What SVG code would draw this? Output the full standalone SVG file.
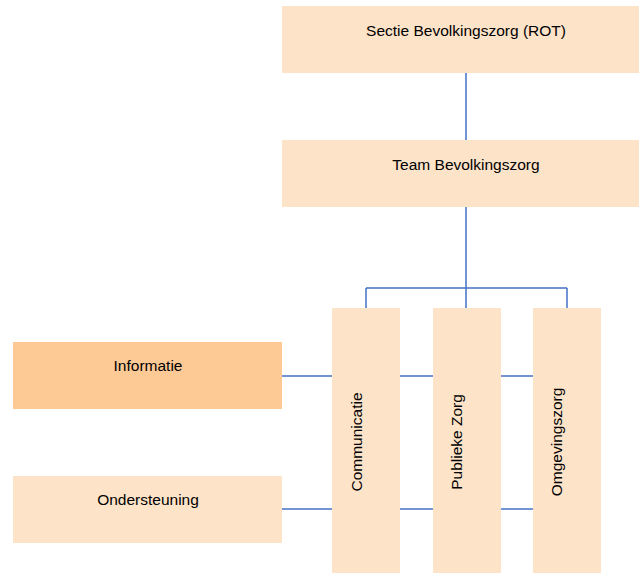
<svg xmlns="http://www.w3.org/2000/svg" width="639" height="573" viewBox="0 0 639 573">
<style>
.box{fill:#FDE3C8}
.dark{fill:#FDC995}
.lbl{font-family:"Liberation Sans",Arial,sans-serif;font-size:15.5px;fill:#000;text-anchor:middle;dominant-baseline:central}
.ln{stroke:#4472C4;stroke-width:1.5;fill:none}
</style>
<rect width="639" height="573" fill="#fff"/>
<g id="connectors">
<path class="ln" d="M466,73V140M466,207V288M366,288H567M366,288V308M466,288V308M567,288V308"/>
<path class="ln" d="M282,376H332M400,376H433M501,376H533M282,509H332M400,509H433M501,509H533"/>
</g>
<g id="sectie"><rect class="box" x="282" y="6" width="357" height="67"/><text class="lbl" x="466" y="30">Sectie Bevolkingszorg (ROT)</text></g>
<g id="team"><rect class="box" x="282" y="140" width="357" height="67"/><text class="lbl" x="466" y="164">Team Bevolkingszorg</text></g>
<g id="informatie"><rect class="dark" x="13" y="342" width="269" height="67"/><text class="lbl" x="148" y="365">Informatie</text></g>
<g id="ondersteuning"><rect class="box" x="13" y="476" width="269" height="67"/><text class="lbl" x="148" y="499">Ondersteuning</text></g>
<g id="communicatie"><rect class="box" x="332" y="308" width="68" height="265"/><text class="lbl" transform="translate(356,442) rotate(-90)">Communicatie</text></g>
<g id="publieke"><rect class="box" x="433" y="308" width="68" height="265"/><text class="lbl" transform="translate(456,442) rotate(-90)">Publieke Zorg</text></g>
<g id="omgevingszorg"><rect class="box" x="533" y="308" width="68" height="265"/><text class="lbl" transform="translate(556,442) rotate(-90)">Omgevingszorg</text></g>
</svg>
